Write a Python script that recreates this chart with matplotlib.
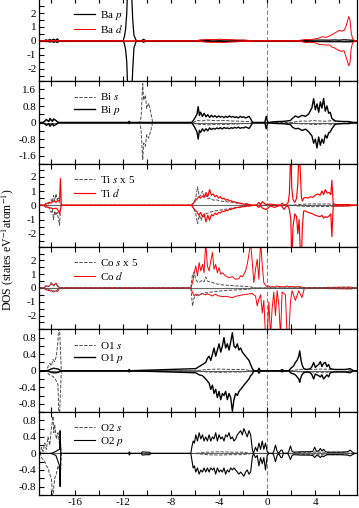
import matplotlib
matplotlib.use('Agg')
import matplotlib.pyplot as plt
from matplotlib.ticker import MultipleLocator, FixedLocator, FixedFormatter

plt.rcParams['font.family'] = ['Liberation Serif', 'DejaVu Serif']
plt.rcParams['mathtext.fontset'] = 'stix'
plt.rcParams['axes.unicode_minus'] = False

# energy (eV) and spin-up / spin-down DOS

# Ba
ba_p_e = [-18.6, -18.4, -18.3, -18.1, -18.0, -17.8, -17.6, -17.5, -17.3,
          -12.0, -11.9, -11.8, -11.7, -11.6, -11.5, -11.4, -11.3, -11.2, -11.1, -10.9,
          -10.5, -10.3, -10.1,
          -6.0, -5.5, -5.0, -4.5, -4.0, -3.5, -3.0, -2.5, -2.0, -1.2,
          2.5, 3.5, 4.5, 5.2, 5.6, 6.0, 6.4, 6.8, 7.2, 7.4]
ba_p_up = [0, 0.08, 0.02, 0.1, 0.03, 0.12, 0.04, 0.15, 0,
           0, 0.3, 0.8, 2.0, 4.5, 6.0, 5.0, 3.5, 1.5, 0.4, 0,
           0, 0.12, 0,
           0, 0.05, 0.03, 0.06, 0.04, 0.06, 0.05, 0.03, 0.04, 0,
           0, 0.04, 0.06, 0.05, 0.07, 0.05, 0.08, 0.06, 0.04, 0]
ba_p_dn = [0, -0.06, -0.03, -0.09, -0.04, -0.1, -0.05, -0.12, 0,
           0, -0.2, -0.6, -1.5, -4.0, -6.0, -5.5, -4.0, -2.0, -0.5, 0,
           0, -0.1, 0,
           0, -0.04, -0.05, -0.05, -0.06, -0.04, -0.05, -0.04, -0.03, 0,
           0, -0.05, -0.05, -0.06, -0.06, -0.06, -0.07, -0.07, -0.05, 0]

ba_d_e = [-10.4, -10.3, -10.2,
          -6.0, -5.5, -5.0, -4.5, -4.0, -3.5, -3.0, -2.5, -2.0, -1.5, -1.0,
          2.3, 2.8, 3.2, 3.6, 4.0, 4.3, 4.6, 4.9, 5.2, 5.4, 5.6, 5.8, 6.0, 6.2, 6.4,
          6.55, 6.7, 6.8, 6.9, 7.0, 7.1, 7.2, 7.4]
ba_d_up = [0, 0.05, 0,
           0, 0.06, 0.1, 0.08, 0.12, 0.1, 0.08, 0.06, 0.05, 0.03, 0,
           0, 0.05, 0.1, 0.08, 0.15, 0.2, 0.3, 0.25, 0.35, 0.45, 0.55, 0.65, 0.75, 0.7, 0.75,
           1.0, 1.45, 1.75, 1.5, 0.6, 0.2, 0.05, 0]
ba_d_dn = [0, -0.05, 0,
           0, -0.05, -0.09, -0.1, -0.1, -0.12, -0.07, -0.06, -0.04, -0.03, 0,
           0, -0.04, -0.12, -0.1, -0.14, -0.25, -0.28, -0.3, -0.3, -0.45, -0.5, -0.6, -0.7, -0.75, -0.7,
           -1.1, -1.5, -1.8, -1.55, -0.55, -0.2, -0.05, 0]

# Bi
bi_s_e = [-18.7, -18.5, -18.3, -18.1, -17.9, -17.7, -17.5, -17.3,
          -10.6, -10.5, -10.37, -10.29, -10.15, -10.04, -9.88, -9.68, -9.54,
          -6.2, -5.8, -5.4, -5.0, -4.5, -4.0, -3.5, -3.0, -2.5, -2.0, -1.5, -1.2,
          2.0, 2.5, 3.0, 3.4, 3.8, 4.2, 4.6, 5.0, 5.4, 5.8, 6.5, 7.2]
bi_s_up = [0, 0.1, 0.05, 0.12, 0.06, 0.15, 0.05, 0,
           0, 0.3, 1.88, 1.08, 1.32, 0.69, 0.93, 0.45, 0,
           0, 0.1, 0.08, 0.12, 0.1, 0.09, 0.1, 0.08, 0.07, 0.06, 0.05, 0,
           0, 0.05, 0.08, 0.06, 0.1, 0.08, 0.07, 0.06, 0.1, 0.05, 0.04, 0]
bi_s_dn = [0, -0.1, -0.06, -0.12, -0.05, -0.14, -0.06, 0,
           0, -0.4, -1.79, -0.99, -1.15, -0.59, -0.75, -0.35, 0,
           0, -0.1, -0.09, -0.11, -0.1, -0.08, -0.1, -0.07, -0.07, -0.05, -0.05, 0,
           0, -0.05, -0.07, -0.06, -0.1, -0.09, -0.07, -0.06, -0.09, -0.05, -0.04, 0]

bi_p_e = [-18.7, -18.5, -18.4, -18.2, -18.1, -17.9, -17.8, -17.6, -17.4,
          -11.6, -11.5, -11.4,
          -6.3, -6.15, -6.0, -5.85, -5.75, -5.65, -5.55, -5.4, -5.25, -5.1, -4.95, -4.8,
          -4.65, -4.5, -4.35, -4.2, -4.05, -3.9, -3.75, -3.6, -3.45, -3.3, -3.15, -3.0,
          -2.85, -2.7, -2.55, -2.4, -2.25, -2.1, -1.95, -1.8, -1.65, -1.5, -1.35, -1.2,
          -0.2, -0.08, 0.05, 0.6, 1.0, 1.4,
          1.94, 2.1, 2.35, 2.6, 2.9, 3.2, 3.46, 3.73, 3.87, 4.01, 4.15, 4.29, 4.43,
          4.56, 4.7, 4.84, 4.98, 5.12, 5.25, 5.39, 5.67, 6.0, 6.4, 6.8, 7.2]
bi_p_up = [0, 0.08, 0.15, 0.05, 0.2, 0.06, 0.18, 0.1, 0,
           0, 0.06, 0,
           0, 0.1, 0.25, 0.4, 0.77, 0.35, 0.5, 0.3, 0.45, 0.28, 0.38, 0.25,
           0.35, 0.27, 0.33, 0.25, 0.32, 0.26, 0.3, 0.24, 0.3, 0.25, 0.32, 0.26,
           0.3, 0.24, 0.28, 0.22, 0.3, 0.25, 0.28, 0.22, 0.26, 0.3, 0.15, 0,
           0, 0.3, 0, 0.04, 0.05, 0.06,
           0.1, 0.2, 0.32, 0.25, 0.35, 0.3, 0.42, 0.72, 1.15, 0.62, 0.9, 0.5, 1.0,
           0.7, 1.16, 0.55, 0.8, 0.45, 0.5, 0.2, 0.08, 0.06, 0.05, 0.05, 0]
bi_p_dn = [0, -0.07, -0.14, -0.06, -0.18, -0.05, -0.16, -0.1, 0,
           0, -0.05, 0,
           0, -0.12, -0.28, -0.45, -0.8, -0.38, -0.48, -0.3, -0.42, -0.3, -0.4, -0.26,
           -0.34, -0.28, -0.32, -0.26, -0.3, -0.25, -0.31, -0.24, -0.28, -0.26, -0.3, -0.25,
           -0.28, -0.23, -0.27, -0.22, -0.28, -0.24, -0.26, -0.21, -0.25, -0.28, -0.14, 0,
           0, -0.3, 0, -0.04, -0.05, -0.06,
           -0.1, -0.22, -0.3, -0.28, -0.38, -0.32, -0.45, -0.65, -1.0, -0.8, -1.23, -0.7, -1.1,
           -0.8, -1.0, -0.6, -0.75, -0.5, -0.45, -0.3, -0.08, -0.06, -0.05, -0.05, 0]

# Ti
ti_s_e = [-18.6, -18.4, -18.2, -18.0, -17.9, -17.8, -17.7, -17.6, -17.5, -17.4, -17.3, -17.2,
          -6.3, -6.1, -5.95, -5.8, -5.65, -5.5, -5.4, -5.25, -5.1, -4.95, -4.8, -4.6,
          -4.4, -4.2, -4.0, -3.7, -3.4, -3.1, -2.8, -2.5, -2.2, -1.9, -1.6, -1.3,
          2.0, 2.6, 3.2, 3.8, 4.4, 5.0, 5.6, 6.2, 6.8, 7.2]
ti_s_up = [0, 0.15, 0.1, 0.4, 0.2, 0.7, 0.3, 0.8, 0.4, 0.5, 0.3, 0,
           0, 0.2, 0.5, 1.29, 0.6, 0.75, 1.0, 0.58, 0.7, 0.45, 0.5, 0.4,
           0.35, 0.38, 0.3, 0.28, 0.25, 0.22, 0.2, 0.17, 0.15, 0.12, 0.1, 0,
           0, 0.06, 0.08, 0.1, 0.08, 0.1, 0.06, 0.05, 0.04, 0]
ti_s_dn = [0, -0.2, -0.15, -0.5, -0.3, -1.0, -0.4, -0.7, -0.5, -0.9, -1.4, 0,
           0, -0.25, -0.6, -1.29, -0.7, -1.05, -0.75, -0.82, -0.6, -0.55, -0.5, -0.45,
           -0.4, -0.38, -0.35, -0.3, -0.27, -0.22, -0.18, -0.15, -0.13, -0.1, -0.08, 0,
           0, -0.05, -0.07, -0.1, -0.09, -0.08, -0.06, -0.05, -0.04, 0]

ti_d_e = [-18.6, -18.4, -18.2, -18.0, -17.8, -17.6, -17.45, -17.3, -17.23, -17.15,
          -6.3, -6.15, -6.0, -5.85, -5.7, -5.55, -5.4, -5.25, -5.1, -4.95, -4.8, -4.65,
          -4.5, -4.35, -4.2, -4.05, -3.9, -3.75, -3.6, -3.45, -3.3, -3.15, -3.0, -2.85,
          -2.7, -2.55, -2.4, -2.25, -2.1, -1.95, -1.8, -1.6, -1.4, -1.2,
          -0.9, -0.7, -0.55, -0.4, -0.1, 0.3, 0.6, 1.1, 1.25, 1.4, 1.6, 1.75,
          1.85, 1.97, 2.05, 2.15, 2.3, 2.45, 2.55, 2.66, 2.75, 2.85, 2.93, 3.04,
          3.2, 3.4, 3.6, 3.8, 4.0, 4.2, 4.4, 4.56, 4.7, 4.84, 5.0, 5.15, 5.3, 5.39, 5.5,
          5.7, 6.2, 6.8, 7.2]
ti_d_up = [0, 0.1, 0.2, 0.15, 0.3, 0.2, 0.35, 0.25, 1.87, 0,
           0, 0.15, 0.3, 0.45, 0.6, 0.5, 0.65, 0.55, 0.9, 0.6, 1.1, 0.7,
           0.8, 0.6, 0.7, 0.5, 0.6, 0.45, 0.5, 0.35, 0.42, 0.3, 0.32, 0.22,
           0.25, 0.15, 0.18, 0.12, 0.1, 0.08, 0.06, 0.05, 0.04, 0,
           0, 0.2, 0.05, 0.25, 0.05, 0.08, 0.04, 0, 0.15, 0, 0.05, 0.2,
           0.8, 4.0, 1.2, 0.4, 0.2, 0.5, 1.5, 4.0, 2.5, 0.6, 0.3, 0.5,
           0.55, 0.5, 0.6, 0.55, 0.7, 0.8, 0.7, 1.0, 0.75, 1.1, 0.85, 0.9, 0.75, 1.75, 0.1,
           0.05, 0.05, 0.05, 0]
ti_d_dn = [0, -0.1, -0.15, -0.2, -0.25, -0.2, -0.3, -0.6, -0.3, 0,
           0, -0.2, -0.35, -0.45, -0.7, -0.5, -0.8, -0.6, -1.17, -0.7, -1.05, -0.65,
           -0.75, -0.55, -0.65, -0.5, -0.55, -0.4, -0.45, -0.35, -0.38, -0.28, -0.3, -0.22,
           -0.22, -0.15, -0.16, -0.12, -0.1, -0.08, -0.06, -0.05, -0.04, 0,
           0, -0.15, -0.05, -0.2, -0.3, -0.05, -0.15, 0, -0.1, -0.3, -0.05, -0.1,
           -0.3, -1.0, -4.0, -1.5, -0.6, -0.8, -2.0, -1.0, -3.0, -4.0, -1.5, -0.4,
           -0.4, -0.5, -0.55, -0.6, -0.7, -0.75, -0.8, -0.7, -0.9, -0.8, -0.85, -0.75, -0.6, -2.2, -0.1,
           -0.05, -0.05, -0.04, 0]

# Co
co_s_e = [-18.6, -18.4, -18.2, -18.0, -17.8, -17.6, -17.45, -17.3,
          -6.36, -6.22, -6.08, -5.95, -5.81, -5.67, -5.53, -5.39, -5.26, -5.12, -4.98, -4.84,
          -4.56, -4.3, -4.0, -3.7, -3.4, -3.0, -2.6, -2.2, -1.8, -1.4, -1.1,
          2.0, 3.0, 4.0, 5.0, 6.0, 7.05, 7.2]
co_s_up = [0, 0.2, 0.1, 0.4, 0.15, 0.3, 0.1, 0,
           0, 1.0, 1.16, 0.6, 0.45, 0.4, 0.5, 0.55, 0.45, 0.8, 0.5, 0.45,
           0.4, 0.3, 0.27, 0.22, 0.2, 0.18, 0.15, 0.13, 0.12, 0.08, 0,
           0, 0.04, 0.03, 0.04, 0.05, 0.06, 0]
co_s_dn = [0, -0.15, -0.1, -0.3, -0.2, -0.25, -0.1, 0,
           0, -1.3, -0.7, -0.58, -0.5, -0.53, -0.45, -0.4, -0.38, -0.34, -0.36, -0.3,
           -0.3, -0.25, -0.22, -0.2, -0.18, -0.16, -0.14, -0.12, -0.1, -0.07, 0,
           0, -0.04, -0.03, -0.04, -0.05, -0.06, 0]

co_d_e = [-18.6, -18.4, -18.2, -18.0, -17.8, -17.6, -17.45, -17.3,
          -6.36, -6.22, -6.08, -5.95, -5.81, -5.67, -5.53, -5.39, -5.26, -5.12, -4.98, -4.84,
          -4.7, -4.56, -4.43, -4.29, -4.15, -4.01, -3.87, -3.73, -3.46, -3.18, -2.9, -2.63,
          -2.35, -2.21, -2.07, -1.94, -1.8, -1.66, -1.52, -1.38, -1.24, -1.11, -0.97, -0.83,
          -0.69, -0.55, -0.41, -0.28, -0.14, 0.0, 0.14, 0.28, 0.41, 0.55, 0.69, 0.83,
          0.97, 1.11, 1.24, 1.52, 1.66, 1.8, 1.94, 2.07, 2.35, 2.63, 2.9, 3.1,
          4.0, 5.0, 6.0, 7.0, 7.2]
co_d_up = [0, 0.15, 0.1, 0.3, 0.2, 0.35, 0.15, 0,
           0, 0.39, 1.1, 1.6, 0.87, 1.84, 1.24, 1.72, 1.1, 3.3, 1.6, 1.24,
           1.96, 2.57, 1.36, 1.72, 1.1, 1.48, 1.0, 1.1, 0.87, 0.75, 0.82, 0.63,
           0.68, 0.9, 0.8, 1.0, 1.24, 1.72, 2.45, 3.3, 1.84, 0.39, 1.36, 2.08,
           0.63, 3.5, 1.6, 0.39, 0.2, 0.1, 0.15, 0.05, 0.12, 0.05, 0.1, 0.15,
           0.1, 0.12, 0.08, 0.1, 0.15, 0.08, 0.12, 0.1, 0.08, 0.1, 0.06, 0,
           0, 0.04, 0.05, 0.06, 0]
co_d_dn = [0, -0.1, -0.2, -0.15, -0.3, -0.2, -0.25, 0,
           0, -0.34, -0.58, -0.45, -0.5, -0.53, -0.45, -0.4, -0.45, -0.5, -0.42, -0.48,
           -0.52, -0.58, -0.5, -0.45, -0.55, -0.58, -0.6, -0.63, -0.6, -0.65, -0.7, -0.6,
           -0.55, -0.52, -0.5, -0.48, -0.46, -0.45, -0.43, -0.42, -0.4, -0.5, -0.58, -1.3,
           -0.8, -0.5, -1.8, -0.9, -3.5, -3.5, -1.0, -3.5, -1.5, -0.3, -2.0, -0.2,
           -1.2, -3.5, -0.3, -0.5, -3.5, -3.5, -1.0, -0.2, -0.9, -0.2, -0.7, 0,
           0, -0.04, -0.05, -0.06, 0]

# O1
o1_s_e = [-18.4, -18.26, -18.12, -17.98, -17.84, -17.7, -17.57, -17.43, -17.34, -17.23, -17.15,
          -6.0, -5.0, -4.0, -3.0, -2.0, -1.3,
          2.0, 2.7, 3.5, 4.5, 5.5, 6.5, 7.2]
o1_s_up = [0, 0.1, 0.18, 0.12, 0.27, 0.22, 0.35, 0.7, 1.3, 0.55, 0,
           0, 0.03, 0.04, 0.03, 0.03, 0,
           0, 0.03, 0.03, 0.04, 0.03, 0.03, 0]
o1_s_dn = [0, -0.06, -0.1, -0.12, -0.14, -0.18, -0.25, -0.34, -1.3, -0.58, 0,
           0, -0.03, -0.04, -0.03, -0.03, 0,
           0, -0.03, -0.03, -0.04, -0.03, -0.03, 0]

o1_p_e = [-18.3, -18.0, -17.8, -17.6, -17.4, -17.2,
          -11.6, -11.5, -11.4,
          -5.95, -5.67, -5.39, -5.12, -4.98, -4.84, -4.7, -4.56, -4.43, -4.29, -4.15, -4.01,
          -3.87, -3.73, -3.6, -3.46, -3.32, -3.18, -3.04, -2.9, -2.77, -2.63, -2.49, -2.35,
          -2.21, -2.07, -1.94, -1.8, -1.66, -1.52, -1.38, -1.24, -1.11,
          -0.8, -0.69, -0.55, 1.1, 1.24, 1.4,
          1.8, 1.94, 2.21, 2.35, 2.49, 2.63, 2.71, 2.82, 2.9, 3.04, 3.3,
          3.6, 3.73, 3.87, 4.01, 4.15, 4.29, 4.43, 4.56, 4.7, 4.84, 4.98, 5.12, 5.25,
          5.6, 6.0, 6.5, 6.9, 7.2]
o1_p_up = [0, 0.04, 0.06, 0.05, 0.04, 0,
           0, 0.03, 0,
           0.05, 0.1, 0.15, 0.2, 0.3, 0.35, 0.25, 0.4, 0.55, 0.35, 0.5, 0.65,
           0.45, 0.6, 0.8, 0.55, 0.65, 0.5, 0.7, 0.92, 0.6, 0.55, 0.65, 0.5,
           0.55, 0.45, 0.4, 0.35, 0.3, 0.25, 0.15, 0.05, 0,
           0, 0.06, 0, 0, 0.03, 0,
           0, 0.05, 0.12, 0.2, 0.25, 0.35, 0.48, 0.25, 0.15, 0.05, 0.03,
           0.05, 0.1, 0.2, 0.08, 0.12, 0.15, 0.22, 0.1, 0.18, 0.2, 0.1, 0.15, 0.05,
           0.03, 0.03, 0.03, 0.05, 0]
o1_p_dn = [0, -0.04, -0.05, -0.05, -0.04, 0,
           0, -0.03, 0,
           -0.05, -0.1, -0.12, -0.2, -0.25, -0.3, -0.45, -0.35, -0.55, -0.45, -0.65, -0.5,
           -0.7, -0.55, -0.6, -0.5, -0.7, -0.55, -0.65, -0.98, -0.7, -0.55, -0.6, -0.5,
           -0.45, -0.4, -0.35, -0.3, -0.25, -0.2, -0.12, -0.08, 0,
           0, -0.06, 0, 0, -0.03, 0,
           0, -0.05, -0.08, -0.1, -0.15, -0.2, -0.28, -0.15, -0.1, -0.05, -0.03,
           -0.05, -0.1, -0.2, -0.08, -0.1, -0.12, -0.15, -0.1, -0.2, -0.15, -0.1, -0.15, -0.05,
           -0.03, -0.03, -0.03, -0.05, 0]

# O2
o2_s_e = [-18.9, -18.8, -18.67, -18.53, -18.4, -18.26, -18.12, -17.98, -17.84, -17.78,
          -17.7, -17.57, -17.43, -17.29, -17.23, -17.15,
          -6.0, -5.0, -4.0, -3.0, -2.0, -1.3,
          2.0, 3.0, 4.0, 5.0, 6.0, 7.0]
o2_s_up = [0, 0.15, 0.05, 0.25, 0.1, 0.4, 0.2, 0.6, 0.9, 0.5,
           0.7, 0.35, 0.5, 0.2, 0.3, 0,
           0, 0.03, 0.04, 0.03, 0.03, 0,
           0, 0.03, 0.03, 0.03, 0.03, 0]
o2_s_dn = [0, -0.1, -0.15, -0.2, -0.3, -0.35, -0.5, -0.6, -1.2, -0.8,
           -0.6, -0.5, -0.3, -0.4, -0.6, 0,
           0, -0.03, -0.04, -0.03, -0.03, 0,
           0, -0.03, -0.03, -0.03, -0.03, 0]

o2_p_e = [-18.0, -17.6, -17.3, -17.25, -17.2,
          -11.55, -11.48, -11.4, -10.5, -10.4, -10.1, -9.8, -9.7,
          -6.36, -6.28, -6.17, -6.06, -5.95, -5.81, -5.67, -5.53, -5.39, -5.26, -5.12, -4.98,
          -4.84, -4.7, -4.56, -4.43, -4.29, -4.15, -4.01, -3.87, -3.73, -3.6, -3.46, -3.32,
          -3.18, -3.04, -2.9, -2.77, -2.63, -2.49, -2.35, -2.21, -2.07, -1.94, -1.8, -1.66,
          -1.52, -1.38, -1.24, -1.15,
          -0.97, -0.83, -0.69, -0.55, -0.41, -0.28, -0.14, 0.0, 0.15,
          0.45, 0.55, 0.69, 0.83, 0.95, 1.15, 1.24, 1.35,
          1.7, 1.8, 1.94, 2.07, 2.2, 2.8, 3.5, 3.8, 3.96, 4.1, 4.3, 4.43, 4.56, 4.7, 4.84, 5.0,
          6.0, 6.7, 6.92, 7.1, 7.3]
o2_p_up = [0, 0.05, 0.1, 0.55, 0,
           0, 0.04, 0, 0, 0.04, 0.03, 0.03, 0,
           0, 0.15, 0.3, 0.25, 0.45, 0.3, 0.5, 0.35, 0.45, 0.3, 0.4, 0.3,
           0.45, 0.3, 0.4, 0.35, 0.5, 0.3, 0.45, 0.35, 0.4, 0.3, 0.45, 0.4,
           0.5, 0.35, 0.4, 0.3, 0.35, 0.45, 0.5, 0.55, 0.45, 0.6, 0.5, 0.4,
           0.55, 0.45, 0.1, 0,
           0.15, 0.05, 0.25, 0.1, 0.3, 0.1, 0.25, 0.05, 0,
           0, 0.05, 0.2, 0.05, 0, 0.08, 0.08, 0,
           0, 0.05, 0.18, 0.05, 0.03, 0.04, 0.04, 0.05, 0.15, 0.05, 0.06, 0.12, 0.06, 0.1, 0.05, 0.03,
           0.03, 0.04, 0.08, 0.03, 0]
o2_p_dn = [0, -0.05, -0.3, -0.8, 0,
           0, -0.04, 0, 0, -0.04, -0.03, -0.03, 0,
           0, -0.15, -0.35, -0.3, -0.45, -0.35, -0.5, -0.4, -0.45, -0.35, -0.45, -0.35,
           -0.45, -0.35, -0.4, -0.35, -0.5, -0.35, -0.45, -0.4, -0.45, -0.35, -0.5, -0.4,
           -0.45, -0.35, -0.4, -0.35, -0.4, -0.45, -0.5, -0.45, -0.5, -0.55, -0.45, -0.4,
           -0.5, -0.45, -0.1, 0,
           -0.1, -0.05, -0.3, -0.1, -0.25, -0.1, -0.4, -0.05, 0,
           0, -0.05, -0.2, -0.05, 0, -0.1, -0.1, 0,
           0, -0.05, -0.15, -0.05, -0.03, -0.04, -0.04, -0.05, -0.1, -0.05, -0.06, -0.1, -0.06, -0.08, -0.05, -0.03,
           -0.03, -0.04, -0.06, -0.03, 0]

XMIN, XMAX = -19, 7.5
RED = '#ff0000'
GREY = '#4d4d4d'
DASH = (0, (3.5, 1.5))

solid_blk = dict(color='black', lw=0.8)
thick_blk = dict(color='black', lw=1.0)
red = dict(color=RED, lw=0.7)
dash = dict(color=GREY, lw=0.7, ls=DASH)

# (curves in drawing order, ylim, yticks, ytick labels, minor step)
panels = [
    ([(ba_p_e, ba_p_up, ba_p_dn, 'Ba $p$', dict(color='black', lw=0.9)),
      (ba_d_e, ba_d_up, ba_d_dn, 'Ba $d$', red)],
     (-2.9, 3.05), [-2, -1, 0, 1, 2], ['-2', '-1', '0', '1', '2'], 0.5),
    ([(bi_s_e, bi_s_up, bi_s_dn, 'Bi $s$', dash),
      (bi_p_e, bi_p_up, bi_p_dn, 'Bi $p$', thick_blk)],
     (-2.0, 2.0), [-1.6, -0.8, 0, 0.8, 1.6], ['-1.6', '-0.8', '0', '0.8', '1.6'], 0.4),
    ([(ti_s_e, ti_s_up, ti_s_dn, 'Ti $s$ x 5', dash),
      (ti_d_e, ti_d_up, ti_d_dn, 'Ti $d$', dict(color=RED, lw=0.85))],
     (-2.9, 2.9), [-2, -1, 0, 1, 2], ['-2', '-1', '0', '1', '2'], 0.5),
    ([(co_d_e, co_d_up, co_d_dn, 'Co $d$', red),
      (co_s_e, co_s_up, co_s_dn, 'Co $s$ x 5', dash)],
     (-3.0, 3.0), [-2, -1, 0, 1, 2], ['-2', '-1', '0', '1', '2'], 0.5),
    ([(o1_s_e, o1_s_up, o1_s_dn, 'O1 $s$', dash),
      (o1_p_e, o1_p_up, o1_p_dn, 'O1 $p$', thick_blk)],
     (-1.0, 1.0), [-0.8, -0.4, 0, 0.4, 0.8], ['-0.8', '-0.4', '0', '0.4', '0.8'], 0.2),
    ([(o2_s_e, o2_s_up, o2_s_dn, 'O2 $s$', dash),
      (o2_p_e, o2_p_up, o2_p_dn, 'O2 $p$', solid_blk)],
     (-1.0, 1.0), [-0.8, -0.4, 0, 0.4, 0.8], ['-0.8', '-0.4', '0', '0.4', '0.8'], 0.2),
]

fig, axes = plt.subplots(6, 1, sharex=True, figsize=(3.59, 5.08), dpi=100)
fig.subplots_adjust(left=0.109, right=0.995, top=1.003, bottom=0.026, hspace=0)

for ax, (curves, ylim, yt, ytl, mstep) in zip(axes, panels):
    ax.axhline(0, color='#666666', lw=0.8, zorder=0)
    ax.axvline(0, color='#888888', lw=0.8, ls=(0, (4, 2)), zorder=0.5)
    handles = {}
    for e, up, dn, lab, st in curves:
        x = [XMIN] + e + [XMAX]
        l, = ax.plot(x, [0] + up + [0], **st)
        ax.plot(x, [0] + dn + [0], **st)
        handles[lab] = l
    # s-type entry listed first in every legend
    order = [c[3] for c in curves]
    if order[0].startswith('Co'):
        order = order[::-1]
    ax.legend([handles[k] for k in order], order, loc='upper left',
              bbox_to_anchor=(0.095, 0.93), frameon=False, fontsize=8,
              handlelength=1.9, handletextpad=0.5, labelspacing=0.15, borderaxespad=0)
    ax.set_ylim(*ylim)
    ax.yaxis.set_major_locator(FixedLocator(yt))
    ax.yaxis.set_major_formatter(FixedFormatter(ytl))
    ax.yaxis.set_minor_locator(MultipleLocator(mstep))
    ax.set_xlim(XMIN, XMAX)
    ax.xaxis.set_major_locator(MultipleLocator(4))
    ax.xaxis.set_minor_locator(MultipleLocator(2))
    ax.tick_params(which='both', direction='in', top=True, right=False,
                   length=3.5, width=0.8, labelsize=8, pad=2)
    for s in ax.spines.values():
        s.set_linewidth(0.9)

fig.text(0.022, 0.508, r'DOS (states eV$^{-1}$atom$^{-1}$)', rotation=90,
         va='center', ha='center', fontsize=8.5)

fig.savefig('out.png', dpi=100)
